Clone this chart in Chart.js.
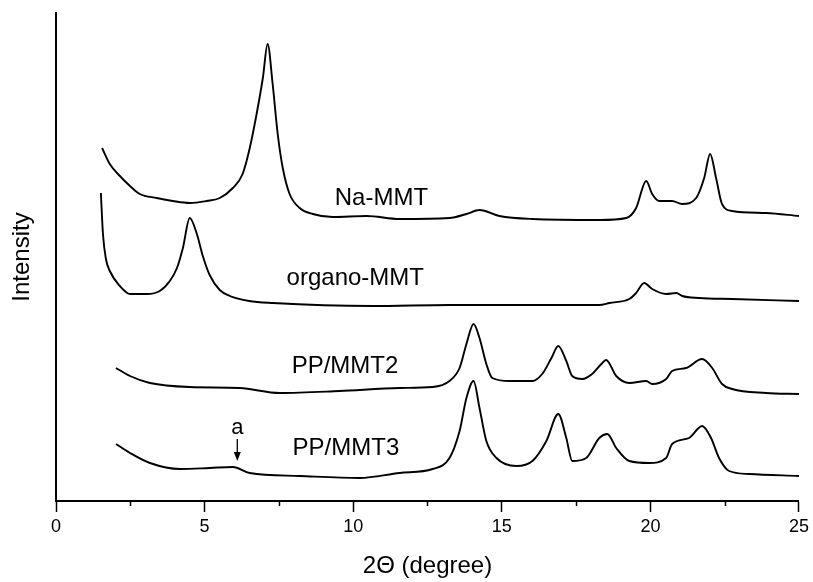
<!DOCTYPE html>
<html>
<head>
<meta charset="utf-8">
<script src="https://cdn.jsdelivr.net/npm/chart.js@4"></script>
<style>
  body { margin: 0; background: #fff; }
</style>
</head>
<body>
<canvas id="xrd" width="813" height="582"></canvas>
<script>
// XRD patterns, 2theta in degrees, intensity in arbitrary (stacked) units
const naX = [1.55, 1.81, 2.15, 2.49, 2.82, 3.39, 3.93, 4.50, 5.07, 5.51, 5.95, 6.28, 6.52, 6.75, 6.96, 7.12, 7.29, 7.46, 7.63, 7.86, 8.20, 8.64, 9.31, 10.45, 11.56, 13.24, 13.81, 14.25, 14.92, 16.03, 18.28, 19.19, 19.52, 19.86, 20.06, 20.30, 20.73, 21.07, 21.54, 21.81, 22.01, 22.21, 22.41, 22.75, 23.89, 25.00];
const naY = [353, 337, 325, 315, 307, 303, 300, 298, 300, 303, 313, 327, 353, 387, 423, 457, 417, 367, 333, 307, 293, 287, 284, 285, 282, 283, 287, 291, 285, 282, 281, 283, 293, 320, 307, 300, 300, 297, 303, 323, 347, 323, 297, 290, 288, 285];

const orgX = [1.51, 1.58, 1.68, 1.81, 2.15, 2.49, 3.06, 3.49, 3.83, 4.07, 4.27, 4.50, 4.74, 4.94, 5.17, 5.51, 5.85, 6.50, 7.29, 10.65, 13.24, 18.28, 18.62, 19.29, 19.52, 19.79, 20.06, 20.53, 20.87, 21.07, 21.64, 22.75, 25.00];
const orgY = [308, 267, 242, 230, 215, 207, 207, 210, 220, 233, 253, 283, 267, 245, 226, 211, 205, 200, 198, 195, 196, 196, 198, 202, 208, 218, 212, 207, 208, 205, 203, 202, 200];

const pp2X = [2.02, 2.49, 3.16, 4.50, 6.18, 7.53, 9.54, 11.56, 12.67, 13.24, 13.58, 13.81, 14.05, 14.25, 14.48, 14.68, 15.26, 16.03, 16.36, 16.67, 16.90, 17.17, 17.37, 17.71, 18.04, 18.35, 18.51, 18.85, 19.29, 19.86, 20.06, 20.53, 20.73, 21.20, 21.74, 22.08, 22.41, 22.75, 23.89, 25.00];
const pp2Y = [133, 125, 118, 114, 113, 108, 110, 113, 114, 120, 133, 157, 177, 163, 137, 123, 120, 120, 127, 143, 155, 140, 125, 122, 127, 137, 141, 125, 118, 120, 117, 122, 130, 133, 142, 133, 117, 112, 108, 107];

const pp3X = [2.02, 2.49, 3.16, 4.17, 5.17, 5.95, 6.52, 8.20, 10.22, 11.56, 12.67, 13.24, 13.58, 13.81, 14.05, 14.25, 14.48, 14.82, 15.49, 16.03, 16.50, 16.90, 17.17, 17.37, 17.84, 18.28, 18.55, 18.85, 19.29, 19.96, 20.53, 20.73, 21.30, 21.74, 22.04, 22.31, 22.65, 23.32, 25.00];
const pp3Y = [57, 48, 38, 32, 33, 34, 28, 25, 23, 28, 32, 43, 70, 103, 120, 93, 60, 43, 35, 40, 60, 87, 63, 40, 43, 63, 67, 53, 40, 38, 43, 57, 63, 75, 63, 43, 30, 27, 25];

const seriesNames = ['Na-MMT', 'organo-MMT', 'PP/MMT2', 'PP/MMT3'];
const xMajorTicks = [0, 5, 10, 15, 20, 25];
const xMinorTicks = [2.5, 7.5, 12.5, 17.5, 22.5];

// where the curve names sit (data coordinates)
const curveLabels = [
  { text: 'Na-MMT', x: 9.38, y: 303 },
  { text: 'organo-MMT', x: 7.76, y: 223 },
  { text: 'PP/MMT2', x: 7.93, y: 135 },
  { text: 'PP/MMT3', x: 7.96, y: 53 }
];
const markA = { x: 6.1, top: 62, tip: 40, textY: 73 };

const toPts = (xs, ys) => xs.map((x, i) => ({ x: x, y: ys[i] }));

const FONT = '"Liberation Sans", Arial, sans-serif';

const overlay = {
  id: 'overlay',
  afterDraw(chart) {
    const { ctx, scales: { x, y } } = chart;
    ctx.save();
    // minor ticks on the x axis
    ctx.strokeStyle = '#000';
    ctx.lineWidth = 1.5;
    const base = chart.chartArea.bottom;
    xMinorTicks.forEach(v => {
      const px = Math.round(x.getPixelForValue(v)) + 0.5;
      ctx.beginPath();
      ctx.moveTo(px, base);
      ctx.lineTo(px, base + 5);
      ctx.stroke();
    });

    ctx.fillStyle = '#000';
    ctx.font = '24px ' + FONT;
    ctx.textBaseline = 'middle';
    ctx.textAlign = 'left';
    curveLabels.forEach(l => {
      ctx.fillText(l.text, x.getPixelForValue(l.x), y.getPixelForValue(l.y));
    });

    // "a" marker with arrow
    const ax = x.getPixelForValue(markA.x);
    ctx.font = '22px ' + FONT;
    ctx.textAlign = 'center';
    ctx.fillText('a', ax, y.getPixelForValue(markA.textY));
    const y0 = y.getPixelForValue(markA.top);
    const y1 = y.getPixelForValue(markA.tip);
    ctx.lineWidth = 1.3;
    ctx.beginPath();
    ctx.moveTo(ax, y0);
    ctx.lineTo(ax, y1 - 6);
    ctx.stroke();
    ctx.beginPath();
    ctx.moveTo(ax - 3.5, y1 - 9);
    ctx.lineTo(ax + 3.5, y1 - 9);
    ctx.lineTo(ax, y1);
    ctx.closePath();
    ctx.fill();
    ctx.restore();
  }
};

const lineStyle = { borderColor: '#000', borderWidth: 1.9, pointRadius: 0, cubicInterpolationMode: 'monotone', fill: false };

new Chart(document.getElementById('xrd'), {
  type: 'line',
  data: {
    datasets: [
      { label: seriesNames[0], data: toPts(naX, naY), ...lineStyle },
      { label: seriesNames[1], data: toPts(orgX, orgY), ...lineStyle },
      { label: seriesNames[2], data: toPts(pp2X, pp2Y), ...lineStyle },
      { label: seriesNames[3], data: toPts(pp3X, pp3Y), ...lineStyle }
    ]
  },
  options: {
    responsive: false,
    animation: false,
    layout: { padding: { left: 0, top: 13, right: 13, bottom: 0 } },
    plugins: { legend: { display: false }, tooltip: { enabled: false } },
    scales: {
      x: {
        type: 'linear',
        min: 0,
        max: 25,
        afterBuildTicks: (s) => { s.ticks = xMajorTicks.map(v => ({ value: v })); },
        afterFit: (s) => { s.height = 81; },
        ticks: { color: '#000', font: { family: FONT, size: 18 }, padding: 4, maxRotation: 0 },
        grid: { drawOnChartArea: false, tickLength: 11, tickColor: '#000', tickWidth: 1.5 },
        border: { color: '#000', width: 2 },
        title: { display: true, text: '2Θ (degree)', color: '#000', font: { family: FONT, size: 24 }, padding: { top: 0, bottom: 1 } }
      },
      y: {
        min: 0,
        max: 488,
        afterFit: (s) => { s.width = 56; },
        ticks: { display: false },
        grid: { drawOnChartArea: false, drawTicks: false },
        border: { color: '#000', width: 2 },
        title: { display: true, text: 'Intensity', color: '#000', font: { family: FONT, size: 24 }, padding: { top: 8, bottom: 0 } }
      }
    }
  },
  plugins: [overlay]
});
</script>
</body>
</html>
